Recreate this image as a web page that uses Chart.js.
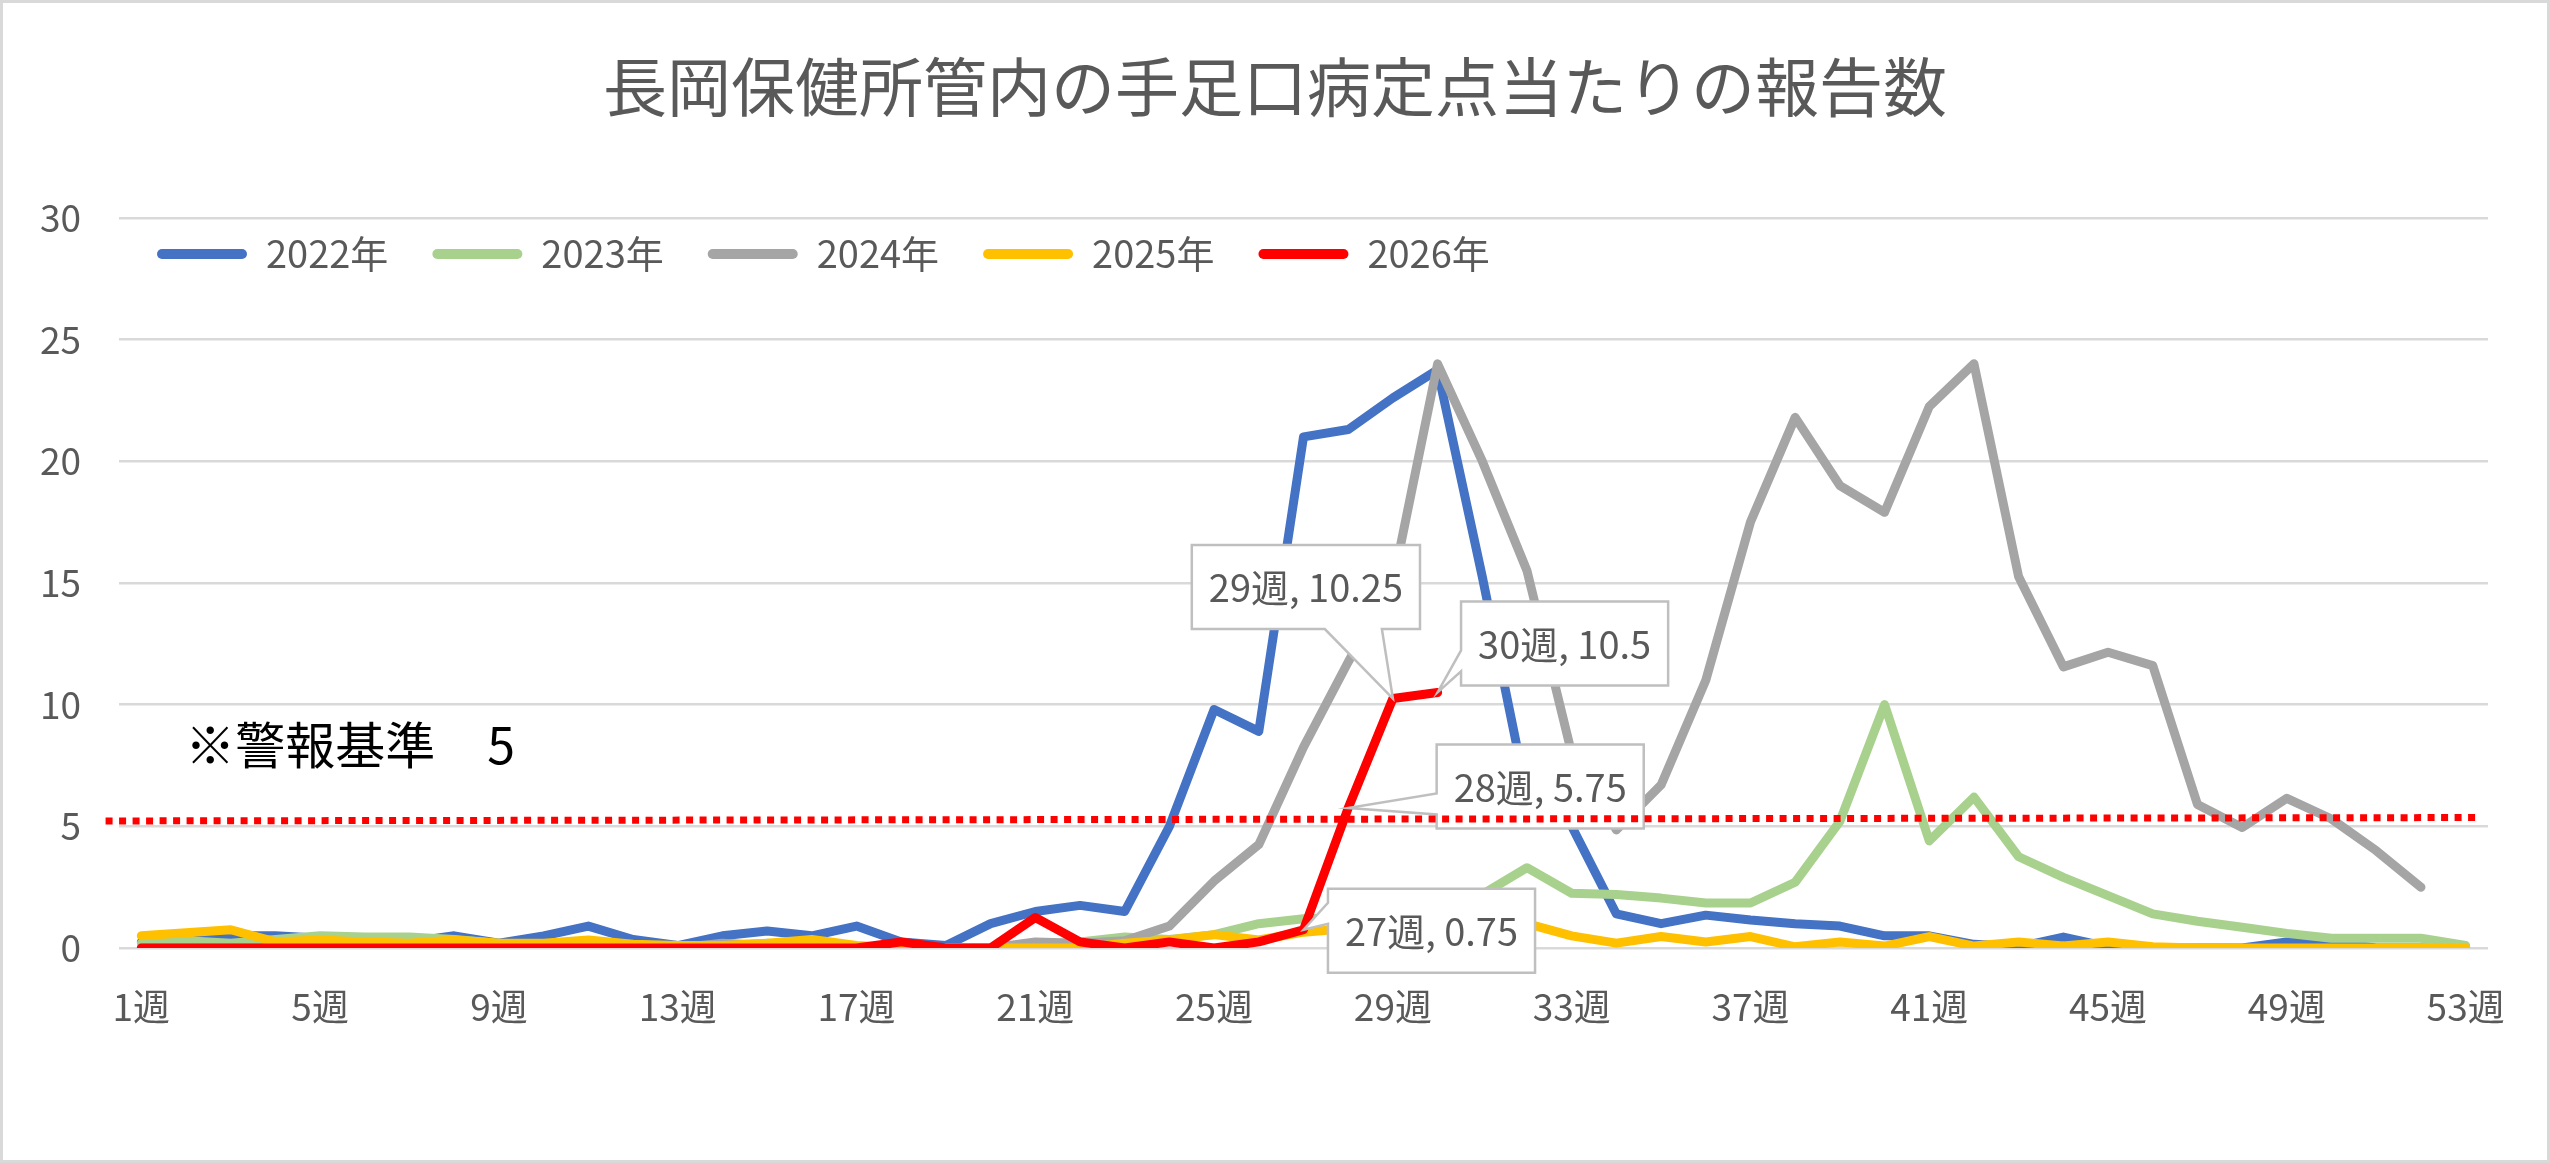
<!DOCTYPE html>
<html lang="ja">
<head>
<meta charset="utf-8">
<title>長岡保健所管内の手足口病定点当たりの報告数</title>
<script src="https://cdn.jsdelivr.net/npm/chart.js@4.4.1/dist/chart.umd.min.js"></script>
<style>
  html, body { margin: 0; padding: 0; background: #fff; }
  #wrap { width: 2550px; height: 1163px; position: relative; }
</style>
</head>
<body>
<div id="wrap"><canvas id="myChart"></canvas></div>
<script>
// 週ラベル (1週〜53週)
const weeks = Array.from({ length: 53 }, (_, i) => (i + 1) + '週');

// 定点当たり報告数
const y2022 = [0.25, 0.25, 0.5, 0.5, 0.4, 0.25, 0.25, 0.5, 0.2, 0.5,
  0.9, 0.35, 0.1, 0.5, 0.7, 0.5, 0.9, 0.25, 0.1, 1.0,
  1.5, 1.75, 1.5, 5.0, 9.8, 8.9, 21.0, 21.3, 22.6, 23.75,
  15.25, 6.25, 5.0, 1.4, 1.0, 1.35, 1.15, 1.0, 0.9, 0.5,
  0.5, 0.15, 0.05, 0.45, 0.05, 0, 0, 0, 0.25, 0.25,
  0, 0, 0];
const y2023 = [0.2, 0.3, 0.2, 0.35, 0.5, 0.45, 0.45, 0.35, 0.2, 0.1,
  0.1, 0.05, 0.1, 0.1, 0.2, 0.1, 0, 0.1, 0, 0,
  0.1, 0.25, 0.45, 0.35, 0.55, 1.0, 1.2, 1.25, 1.5, 1.75,
  2.2, 3.3, 2.25, 2.2, 2.05, 1.85, 1.85, 2.7, 5.2, 10.0,
  4.4, 6.2, 3.75, 2.9, 2.15, 1.4, 1.1, 0.85, 0.6, 0.4,
  0.4, 0.4, 0.1];
const y2024 = [0, 0, 0, 0, 0, 0, 0, 0, 0, 0,
  0, 0, 0, 0.2, 0.1, 0, 0, 0, 0, 0,
  0.25, 0.2, 0.3, 0.9, 2.75, 4.25, 8.25, 11.75, 15.0, 24.0,
  20.0, 15.5, 8.0, 4.85, 6.7, 11.0, 17.5, 21.8, 19.0, 17.9,
  22.25, 24.0, 15.25, 11.55, 12.15, 11.6, 5.9, 4.95, 6.15, 5.3,
  4.0, 2.5, null];
const y2025 = [0.5, 0.625, 0.75, 0.25, 0.33, 0.25, 0.2, 0.33, 0.2, 0.2,
  0.33, 0.15, 0.1, 0.1, 0.2, 0.35, 0.1, 0, 0, 0,
  0, 0, 0.2, 0.33, 0.55, 0.33, 0.65, 0.8, 1.0, 1.25,
  1.25, 1.0, 0.5, 0.2, 0.47, 0.25, 0.47, 0.05, 0.25, 0.08,
  0.47, 0.08, 0.25, 0.08, 0.25, 0.05, 0, 0, 0, 0,
  0, 0, 0];
const y2026 = [0, 0, 0, 0, 0, 0, 0, 0, 0, 0,
  0, 0, 0, 0, 0, 0, 0, 0.25, 0, 0,
  1.25, 0.25, 0, 0.25, 0, 0.25, 0.75, 5.75, 10.25, 10.5,
  null, null, null, null, null, null, null, null, null, null,
  null, null, null, null, null, null, null, null, null, null,
  null, null, null];

const seriesNames = ['2022年', '2023年', '2024年', '2025年', '2026年'];
const seriesColors = ['#4472C4', '#A9D18E', '#A5A5A5', '#FFC000', '#FF0000'];

// 警報基準
const alertLevel = 5;
const alertLineEnds = [5.22, 5.36];

// ラベル表示する週 (2026年)
const labelledWeeks = ['27週', '28週', '29週', '30週'];

const FONT = "'Noto Sans CJK JP', 'Noto Sans', sans-serif";
const GRAY_TEXT = '#595959';

// 吹き出しの位置 (点からのずれ, px)
const calloutOffsets = { '27週': [128, 1], '28週': [192, -21.5], '29週': [-87, -111.5], '30週': [127, -49] };

function drawCallout(ctx, px, py, cx, cy, w, h) {
  const l = cx - w / 2, r = cx + w / 2, t = cy - h / 2, b = cy + h / 2;
  const nx = (px - cx) / (w / 2), ny = (py - cy) / (h / 2);
  ctx.beginPath();
  if (Math.abs(ny) > Math.abs(nx)) {
    const f = px > cx ? [0.583, 0.833] : [0.167, 0.417];
    const b1 = l + w * f[0], b2 = l + w * f[1];
    if (ny > 0) {
      ctx.moveTo(l, t); ctx.lineTo(r, t); ctx.lineTo(r, b);
      ctx.lineTo(b2, b); ctx.lineTo(px, py); ctx.lineTo(b1, b); ctx.lineTo(l, b);
    } else {
      ctx.moveTo(l, b); ctx.lineTo(r, b); ctx.lineTo(r, t);
      ctx.lineTo(b2, t); ctx.lineTo(px, py); ctx.lineTo(b1, t); ctx.lineTo(l, t);
    }
  } else {
    const f = py > cy ? [0.583, 0.833] : [0.167, 0.417];
    const b1 = t + h * f[0], b2 = t + h * f[1];
    if (nx < 0) {
      ctx.moveTo(l, t); ctx.lineTo(r, t); ctx.lineTo(r, b); ctx.lineTo(l, b);
      ctx.lineTo(l, b2); ctx.lineTo(px, py); ctx.lineTo(l, b1);
    } else {
      ctx.moveTo(r, t); ctx.lineTo(l, t); ctx.lineTo(l, b); ctx.lineTo(r, b);
      ctx.lineTo(r, b2); ctx.lineTo(px, py); ctx.lineTo(r, b1);
    }
  }
  ctx.closePath();
  ctx.fillStyle = '#fff';
  ctx.fill();
  ctx.lineWidth = 2.5;
  ctx.strokeStyle = '#BFBFBF';
  ctx.lineJoin = 'miter';
  ctx.stroke();
}

const frameAndLegendPlugin = {
  id: 'frameAndLegend',
  beforeDraw(chart) {
    const ctx = chart.ctx;
    ctx.save();
    ctx.fillStyle = '#fff';
    ctx.fillRect(0, 0, chart.width, chart.height);
    ctx.lineWidth = 3;
    ctx.strokeStyle = '#D9D9D9';
    ctx.strokeRect(1.5, 1.5, chart.width - 3, chart.height - 3);
    ctx.restore();
    // 凡例をグラフ領域の中へ移す
    const lg = chart.legend;
    const pad = lg.options.labels.padding;
    lg.left = 157 - pad;
    lg.right = lg.left + 2200;
    lg.top = 254 - pad - 19;
    lg.bottom = lg.top + 130;
  }
};

const calloutPlugin = {
  id: 'callouts',
  afterDatasetsDraw(chart) {
    const ctx = chart.ctx;
    const meta = chart.getDatasetMeta(4);
    ctx.save();
    ctx.font = '38px ' + FONT;
    labelledWeeks.forEach(wk => {
      const i = weeks.indexOf(wk);
      const pt = meta.data[i];
      const text = wk + ', ' + y2026[i];
      const off = calloutOffsets[wk];
      const cx = pt.x + off[0], cy = pt.y + off[1];
      const w = ctx.measureText(text).width + 34;
      drawCallout(ctx, pt.x, pt.y, cx, cy, w, 84);
      ctx.fillStyle = GRAY_TEXT;
      ctx.textAlign = 'center';
      ctx.textBaseline = 'middle';
      ctx.fillText(text, cx, cy + 1);
    });
    ctx.restore();
  }
};

const alertPlugin = {
  id: 'alertLine',
  afterDatasetsDraw(chart) {
    const { ctx, scales: { x, y } } = chart;
    ctx.save();
    ctx.beginPath();
    ctx.moveTo(x.getPixelForValue(-0.8), y.getPixelForValue(alertLineEnds[0]));
    ctx.lineTo(x.getPixelForValue(52.23), y.getPixelForValue(alertLineEnds[1]));
    ctx.lineWidth = 7;
    ctx.lineCap = 'butt';
    ctx.setLineDash([7, 6.5]);
    ctx.strokeStyle = '#FF0000';
    ctx.stroke();
    ctx.setLineDash([]);

    ctx.font = '50px ' + FONT;
    ctx.fillStyle = '#000';
    ctx.textAlign = 'left';
    ctx.textBaseline = 'middle';
    const tx = x.getPixelForValue(0.98), ty = y.getPixelForValue(8.36);
    ctx.fillText('※警報基準', tx, ty);
    ctx.fillText(String(alertLevel), tx + 302, ty);
    ctx.restore();
  }
};

const seriesData = [y2022, y2023, y2024, y2025, y2026];

const ctx = document.getElementById('myChart');
const myChart = new Chart(ctx, {
  type: 'line',
  data: {
    labels: weeks,
    datasets: seriesData.map((d, i) => ({
      label: seriesNames[i],
      data: d,
      borderColor: seriesColors[i],
      backgroundColor: seriesColors[i],
      borderWidth: 9,
      borderJoinStyle: 'round',
      borderCapStyle: 'round',
      pointRadius: 0,
      tension: 0,
      fill: false,
      spanGaps: false,
      order: seriesData.length - i
    }))
  },
  options: {
    responsive: true,
    maintainAspectRatio: false,
    devicePixelRatio: 1,
    animation: false,
    events: [],
    layout: { padding: 0 },
    scales: {
      x: {
        offset: true,
        grid: { display: false },
        border: { display: false },
        ticks: {
          autoSkip: false,
          maxRotation: 0,
          padding: 29,
          color: GRAY_TEXT,
          font: { family: FONT, size: 37 },
          callback: (v, i) => (i % 4 === 0 ? weeks[i] : '')
        },
        afterFit(s) { s.height = 215; }
      },
      y: {
        min: 0,
        max: 30,
        ticks: {
          stepSize: 5,
          padding: 38,
          color: GRAY_TEXT,
          font: { family: FONT, size: 37 }
        },
        grid: { color: '#D9D9D9', lineWidth: 2.5, drawTicks: false },
        border: { display: false },
        afterFit(s) { s.width = 119; }
      },
      // 右側の余白用 (表示なし)
      yRight: {
        position: 'right',
        min: 0,
        max: 30,
        grid: { display: false },
        border: { display: false },
        ticks: { display: false },
        afterFit(s) { s.width = 62; }
      }
    },
    plugins: {
      title: {
        display: true,
        text: '長岡保健所管内の手足口病定点当たりの報告数',
        color: GRAY_TEXT,
        font: { family: FONT, size: 64, weight: 'normal', lineHeight: 1.2 },
        padding: { top: 48, bottom: 43 }
      },
      legend: {
        position: 'top',
        align: 'start',
        maxHeight: 50,
        labels: {
          color: GRAY_TEXT,
          font: { family: FONT, size: 38 },
          boxWidth: 90,
          boxHeight: 10,
          useBorderRadius: true,
          borderRadius: 5,
          padding: 44,
          generateLabels(chart) {
            return Chart.defaults.plugins.legend.labels.generateLabels(chart)
              .map(item => Object.assign(item, { lineWidth: 0 }))
              .sort((a, b) => a.datasetIndex - b.datasetIndex);
          }
        }
      },
      tooltip: { enabled: false }
    }
  },
  plugins: [frameAndLegendPlugin, calloutPlugin, alertPlugin]
});
</script>
</body>
</html>
